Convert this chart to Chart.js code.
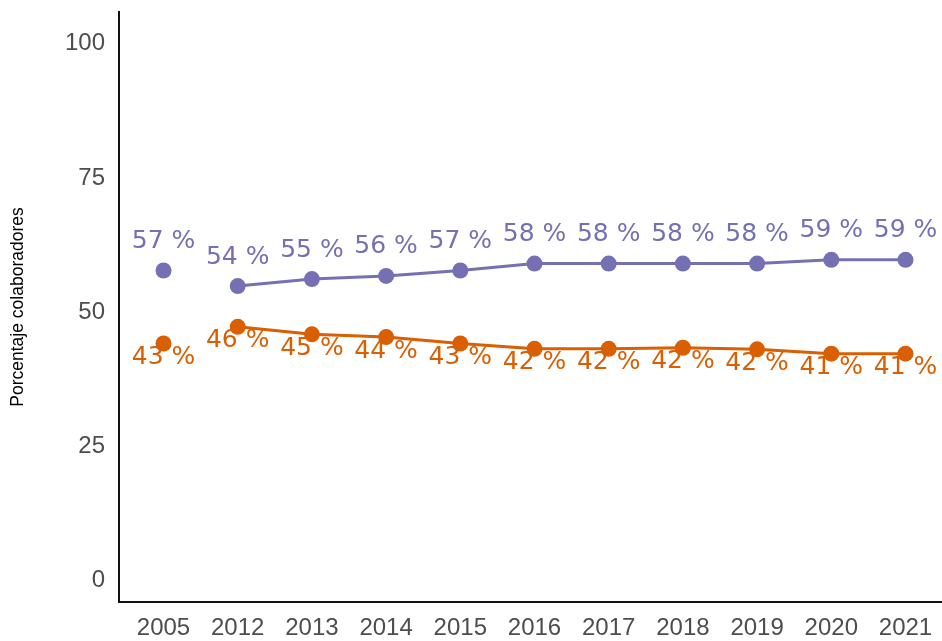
<!DOCTYPE html>
<html>
<head>
<meta charset="utf-8">
<script src="https://cdn.jsdelivr.net/npm/chart.js@4.4.1/dist/chart.umd.min.js"></script>
<style>
  html, body { margin: 0; padding: 0; background: #fff; overflow: hidden; }
  #wrap { position: absolute; left: 0; top: 0; width: 960px; height: 641px; }
</style>
</head>
<body>
<div id="wrap"><canvas id="c" width="960" height="641"></canvas></div>
<script>
// ---- data ----
const years = ['2005', '2012', '2013', '2014', '2015', '2016', '2017', '2018', '2019', '2020', '2021'];
const purpleValues = [56.8, 53.9, 55.2, 55.8, 56.8, 58.1, 58.1, 58.1, 58.1, 58.8, 58.8];
const orangeValues = [43.2, 46.3, 44.9, 44.4, 43.2, 42.2, 42.2, 42.4, 42.1, 41.3, 41.3];
const yTicks = [0, 25, 50, 75, 100];
const yTitle = 'Porcentaje colaboradores';

const PURPLE = '#7570b3';
const ORANGE = '#d95f02';

function toPoints(vals) { return vals.map((v, i) => ({ x: i, y: v })); }

const labelPlugin = {
  id: 'pctLabels',
  beforeDatasetsDraw(chart) {
    const ctx = chart.ctx;
    ctx.save();
    ctx.font = '25px "DejaVu Sans"';
    ctx.textAlign = 'center';
    ctx.textBaseline = 'middle';
    chart.data.datasets.forEach((ds, di) => {
      const meta = chart.getDatasetMeta(di);
      ctx.fillStyle = ds.labelColor;
      meta.data.forEach((pt, i) => {
        const v = ds.data[i].y;
        ctx.fillText(Math.round(v) + ' %', pt.x, pt.y + ds.labelShift);
      });
    });
    ctx.restore();
  }
};

function seriesDataset(vals, color, shift) {
  return {
    data: toPoints(vals),
    borderColor: color,
    backgroundColor: color,
    pointBackgroundColor: color,
    pointBorderWidth: 0,
    pointRadius: 8,
    pointHoverRadius: 8,
    borderWidth: 3,
    tension: 0,
    labelColor: color,
    labelShift: shift,
    segment: {
      borderColor: c => (c.p0DataIndex === 0 ? 'rgba(0,0,0,0)' : color)
    }
  };
}

new Chart(document.getElementById('c'), {
  type: 'line',
  data: {
    datasets: [
      seriesDataset(purpleValues, PURPLE, -29),
      seriesDataset(orangeValues, ORANGE, 14)
    ]
  },
  options: {
    responsive: false,
    animation: false,
    events: [],
    layout: { padding: { top: 12, right: 10, left: 0, bottom: 0 } },
    plugins: { legend: { display: false }, tooltip: { enabled: false } },
    scales: {
      x: {
        type: 'linear',
        min: -0.6,
        max: years.length - 1 + 0.6,
        grid: { display: false, drawTicks: false },
        border: { display: true, color: '#111', width: 2 },
        afterBuildTicks: s => { s.ticks = years.map((_, i) => ({ value: i })); },
        afterFit: s => { s.height = 39; s.paddingLeft = 0; s.paddingRight = 0; },
        ticks: {
          autoSkip: false,
          maxRotation: 0,
          padding: 12,
          color: '#4d4d4d',
          font: { family: '"Liberation Sans", Arial, sans-serif', size: 24 },
          callback: v => years[v] ?? ''
        }
      },
      y: {
        min: -5,
        max: 105,
        grid: { display: false, drawTicks: false },
        border: { display: true, color: '#111', width: 2 },
        afterBuildTicks: s => { s.ticks = yTicks.map(v => ({ value: v })); },
        afterFit: s => { s.width = 119; s.paddingTop = 0; s.paddingBottom = 0; },
        ticks: {
          padding: 14,
          labelOffset: 5,
          color: '#4d4d4d',
          font: { family: '"Liberation Sans", Arial, sans-serif', size: 24 }
        },
        title: {
          display: true,
          text: yTitle,
          color: '#000',
          padding: { top: 8, bottom: 0 },
          font: { family: '"Liberation Sans", Arial, sans-serif', size: 17.5 }
        }
      }
    }
  },
  plugins: [labelPlugin]
});
</script>
</body>
</html>
